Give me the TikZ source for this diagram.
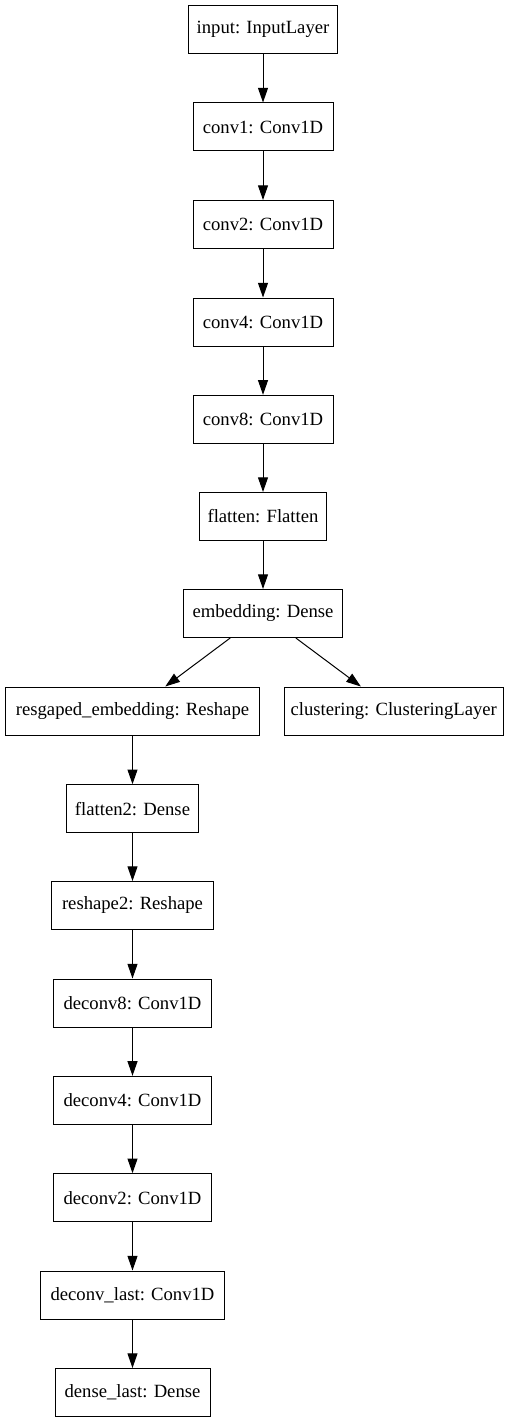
\documentclass[tikz,border=0pt]{standalone}
\usepackage{fontspec}
\setmainfont{Liberation Serif}
\usetikzlibrary{arrows.meta}
\begin{document}
\begin{tikzpicture}[x=0.75pt,y=-0.75pt,
  layer/.style={draw=black, line width=0.75pt, rectangle, minimum height=36pt, inner sep=0pt,
    font=\fontsize{14pt}{16pt}\selectfont},
  flow/.style={draw=black, line width=0.75pt, -{Triangle[length=11pt,width=7.5pt]}}]
\useasboundingbox (0,0) rectangle (509,1423);
\def\ra{263}
\def\rb{132.5}
\node[layer, minimum width=112pt]    (input)  at (\ra,29.5)   {input: InputLayer};
\node[layer, minimum width=105pt]    (conv1)  at (\ra,127)    {conv1: Conv1D};
\node[layer, minimum width=105pt]    (conv2)  at (\ra,224.5)  {conv2: Conv1D};
\node[layer, minimum width=105pt]    (conv4)  at (\ra,322)    {conv4: Conv1D};
\node[layer, minimum width=105pt]    (conv8)  at (\ra,419.3)  {conv8: Conv1D};
\node[layer, minimum width=95.25pt]  (flat)   at (\ra,516.5)  {flatten: Flatten};
\node[layer, minimum width=119.25pt] (emb)    at (\ra,613.5)  {embedding: Dense};
\node[layer, minimum width=191pt]    (resg)   at (\rb,711)    {resgaped\_embedding: Reshape};
\node[layer, minimum width=164pt]    (clus)   at (393.7,711)  {clustering: ClusteringLayer};
\node[layer, minimum width=98.5pt]   (flat2)  at (\rb,808.7)  {flatten2: Dense};
\node[layer, minimum width=121.2pt]  (resh2)  at (\rb,905.5)  {reshape2: Reshape};
\node[layer, minimum width=119pt]    (dec8)   at (\rb,1003)   {deconv8: Conv1D};
\node[layer, minimum width=119pt]    (dec4)   at (\rb,1100.3) {deconv4: Conv1D};
\node[layer, minimum width=119pt]    (dec2)   at (\rb,1197.7) {deconv2: Conv1D};
\node[layer, minimum width=138.3pt]  (declast) at (\rb,1295)  {deconv\_last: Conv1D};
\node[layer, minimum width=116.25pt] (denlast) at (\rb,1392.5){dense\_last: Dense};
\draw[flow] (input) -- (conv1);
\draw[flow] (conv1) -- (conv2);
\draw[flow] (conv2) -- (conv4);
\draw[flow] (conv4) -- (conv8);
\draw[flow] (conv8) -- (flat);
\draw[flow] (flat) -- (emb);
\draw[flow] (emb) -- (resg);
\draw[flow] (emb) -- (clus);
\draw[flow] (resg) -- (flat2);
\draw[flow] (flat2) -- (resh2);
\draw[flow] (resh2) -- (dec8);
\draw[flow] (dec8) -- (dec4);
\draw[flow] (dec4) -- (dec2);
\draw[flow] (dec2) -- (declast);
\draw[flow] (declast) -- (denlast);
\end{tikzpicture}
\end{document}
